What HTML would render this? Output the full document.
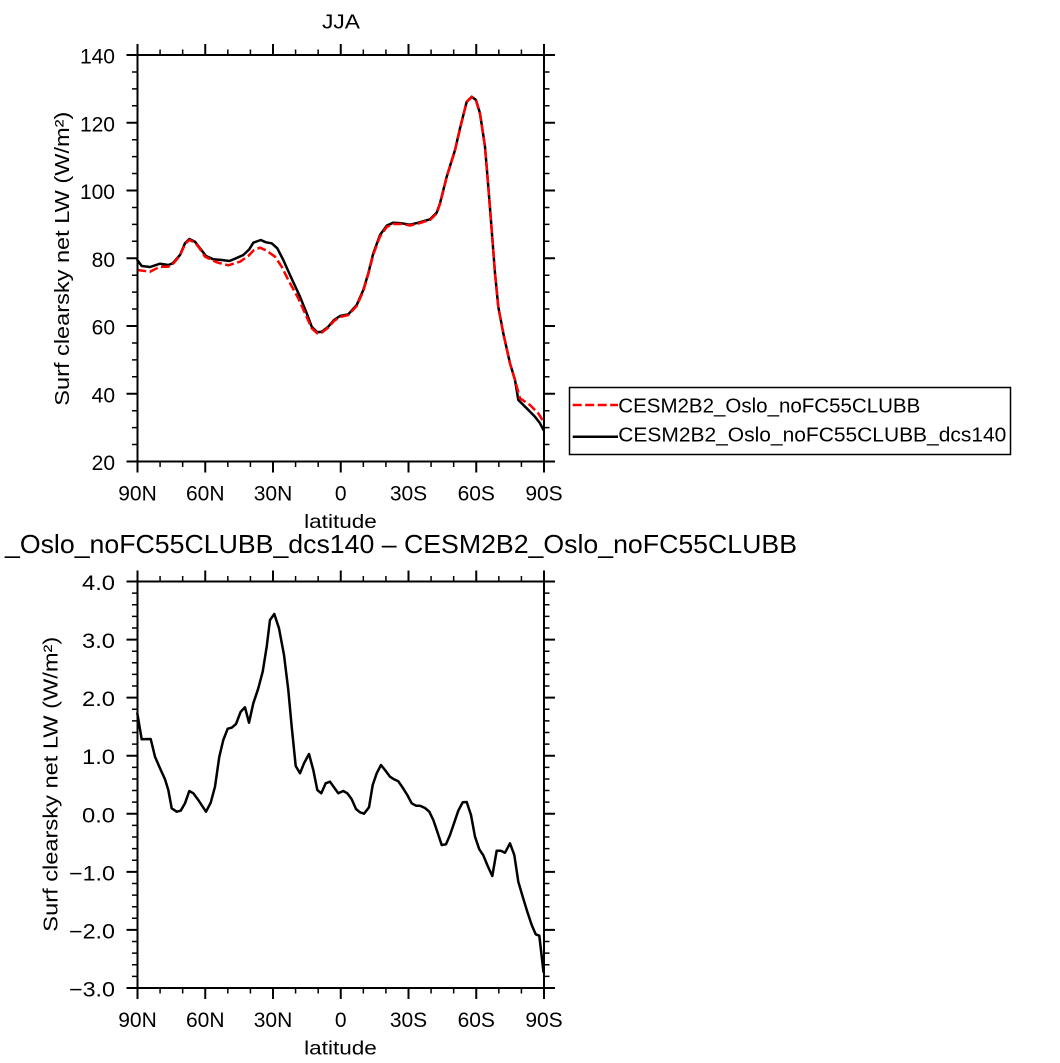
<!DOCTYPE html>
<html>
<head>
<meta charset="utf-8">
<style>
html,body{margin:0;padding:0;background:#fff;}
svg{display:block;}
text{font-family:"Liberation Sans",sans-serif;fill:#000;}
</style>
</head>
<body>
<svg width="1060" height="1063" viewBox="0 0 1060 1063" xmlns="http://www.w3.org/2000/svg">
<rect x="0" y="0" width="1060" height="1063" fill="#fff"/>

<!-- ================= TOP PLOT ================= -->
<text x="341" y="28.3" font-size="20" text-anchor="middle" textLength="38" lengthAdjust="spacingAndGlyphs">JJA</text>

<polyline fill="none" stroke="#000" stroke-width="2.5" stroke-linejoin="round" stroke-linecap="round"
points="137.3,260 141.7,266 150,267 160,263.7 168.3,265 172.7,263.3 180,255 185,243.3 189.3,239 195,241.7 200,248.3 206,256 213.3,259.3 221.7,260 229.3,261 236,258.3 243.3,255 249.3,249.3 253.3,242.7 260.7,240 266,242.3 271.7,243.3 277.3,248.3 283.3,260 290,275 300,296.7 306.7,313.3 311.7,326.7 317.3,332.3 321.7,331.7 328.3,326.7 334,320 340,316 348.3,314.3 356.7,305 363.3,290 368.3,273.3 373.3,253.3 380,235 386.7,225.7 393.3,222.7 401.7,223.3 410,224.7 418.3,222.7 430,219.3 436.7,212.7 440,203.3 446.7,176.7 455,150 460,128.3 466.7,101.7 471.7,96.7 476,100 480,113.3 485,146.7 488.3,186.7 491.7,230 495,273.3 498.3,306.7 503.3,333.3 510,363.3 515,380 518.3,400 526.7,408.3 535,416.7 540,423.3 543.5,430"/>
<polyline fill="none" stroke="#ff0000" stroke-width="2.5" stroke-dasharray="9 3.5" stroke-linejoin="round"
points="137.3,270 150,271.7 160,266.7 168.3,266.7 172.7,264.3 180,255.5 185,244 189.3,240 195,242.5 200,249 205,256.7 216.7,262.3 228.3,265.3 240,261.7 248.3,256 254,250 260,247.7 266.7,250.7 275,256.7 281.7,266.7 288.3,280 298.3,298.3 305,313.3 311.7,328.3 317.3,333.3 321.7,332.7 328.3,327.5 334,321 340,317 348.3,315 356.7,306 363.3,291 368.3,274 373.3,254.5 380,236.5 386.7,227 393.3,224 401.7,224 410,225.5 418.3,223.5 430,220 436.7,213.5 440,204 446.7,177 455,150.5 460,129 466.7,102 471.7,97 476,100.5 480,114 485,147 488.3,187 491.7,230 495,273.5 498.3,307 503.3,333.5 510,363.5 515,380 520,398.3 530,405 538.3,413.3 543.5,421.7"/>

<rect x="137.5" y="55" width="406.5" height="406.5" fill="none" stroke="#000" stroke-width="2"/>
<path fill="none" stroke="#000" stroke-width="2" d="
M137.5 44V55 M205.25 44V55 M273 44V55 M340.75 44V55 M408.5 44V55 M476.25 44V55 M544 44V55
M137.5 461.5V472.5 M205.25 461.5V472.5 M273 461.5V472.5 M340.75 461.5V472.5 M408.5 461.5V472.5 M476.25 461.5V472.5 M544 461.5V472.5
M126.5 55H137.5 M126.5 122.75H137.5 M126.5 190.5H137.5 M126.5 258.25H137.5 M126.5 326H137.5 M126.5 393.75H137.5 M126.5 461.5H137.5
M544 55H555 M544 122.75H555 M544 190.5H555 M544 258.25H555 M544 326H555 M544 393.75H555 M544 461.5H555"/>
<path fill="none" stroke="#000" stroke-width="1.5" d="
M160.08 49.5V55 M182.67 49.5V55 M227.83 49.5V55 M250.42 49.5V55 M295.58 49.5V55 M318.17 49.5V55 M363.33 49.5V55 M385.92 49.5V55 M431.08 49.5V55 M453.67 49.5V55 M498.83 49.5V55 M521.42 49.5V55
M160.08 461.5V467 M182.67 461.5V467 M227.83 461.5V467 M250.42 461.5V467 M295.58 461.5V467 M318.17 461.5V467 M363.33 461.5V467 M385.92 461.5V467 M431.08 461.5V467 M453.67 461.5V467 M498.83 461.5V467 M521.42 461.5V467
M132 71.94H137.5 M132 88.88H137.5 M132 105.81H137.5 M132 139.69H137.5 M132 156.63H137.5 M132 173.56H137.5 M132 207.44H137.5 M132 224.38H137.5 M132 241.31H137.5 M132 275.19H137.5 M132 292.13H137.5 M132 309.06H137.5 M132 342.94H137.5 M132 359.88H137.5 M132 376.81H137.5 M132 410.69H137.5 M132 427.63H137.5 M132 444.56H137.5
M544 71.94H549.5 M544 88.88H549.5 M544 105.81H549.5 M544 139.69H549.5 M544 156.63H549.5 M544 173.56H549.5 M544 207.44H549.5 M544 224.38H549.5 M544 241.31H549.5 M544 275.19H549.5 M544 292.13H549.5 M544 309.06H549.5 M544 342.94H549.5 M544 359.88H549.5 M544 376.81H549.5 M544 410.69H549.5 M544 427.63H549.5 M544 444.56H549.5"/>

<g font-size="21" text-anchor="end">
<text x="115" y="63.5">140</text>
<text x="115" y="131.25">120</text>
<text x="115" y="199">100</text>
<text x="115" y="266.75">80</text>
<text x="115" y="334.5">60</text>
<text x="115" y="402.25">40</text>
<text x="115" y="470">20</text>
</g>
<g font-size="21" text-anchor="middle">
<text x="137.5" y="500.7">90N</text>
<text x="205.25" y="500.7">60N</text>
<text x="273" y="500.7">30N</text>
<text x="340.75" y="500.7">0</text>
<text x="408.5" y="500.7">30S</text>
<text x="476.25" y="500.7">60S</text>
<text x="544" y="500.7">90S</text>
</g>
<text x="340.5" y="528" font-size="19.5" text-anchor="middle" textLength="72.7" lengthAdjust="spacingAndGlyphs">latitude</text>
<text transform="translate(69,258.7) rotate(-90)" font-size="20" text-anchor="middle" textLength="294" lengthAdjust="spacingAndGlyphs">Surf clearsky net LW (W/m²)</text>

<rect x="569.5" y="387.5" width="441" height="67" fill="#fff" stroke="#000" stroke-width="1.5"/>
<line x1="572.7" y1="405" x2="618" y2="405" stroke="#ff0000" stroke-width="2.5" stroke-dasharray="9 3.5"/>
<line x1="572.7" y1="436.7" x2="618" y2="436.7" stroke="#000" stroke-width="2.5"/>
<text x="618.3" y="412.3" font-size="20" textLength="302" lengthAdjust="spacingAndGlyphs">CESM2B2_Oslo_noFC55CLUBB</text>
<text x="618.3" y="441.7" font-size="20" textLength="388" lengthAdjust="spacingAndGlyphs">CESM2B2_Oslo_noFC55CLUBB_dcs140</text>

<!-- ================= BOTTOM PLOT ================= -->
<text x="-130" y="553" font-size="26">CESM2B2</text>
<text x="5" y="553" font-size="26" textLength="792" lengthAdjust="spacingAndGlyphs">_Oslo_noFC55CLUBB_dcs140 – CESM2B2_Oslo_noFC55CLUBB</text>

<polyline fill="none" stroke="#000" stroke-width="2.5" stroke-linejoin="round" stroke-linecap="round"
points="137.3,713.3 141.7,739.3 150.7,739 155,756.7 160,768.3 165,779.3 168.3,790 171.7,808.3 176.7,811.7 180.7,810.7 185,803.3 189.3,791 193.3,793.3 198.3,800 206,811.7 210.7,802.7 215,786.7 219.3,756.7 223.3,740 227.7,728.7 231.7,727.7 236,724 240.7,711.7 245,707.3 249,722.7 253.3,703.3 258.3,688.3 262.7,671.7 266.7,646.7 270,620 274.3,614 279,628.3 284,655 288.3,690 291.7,726.7 295.7,766 300,773.3 304,763.3 309,754 313.3,770 317.3,790 321.3,793.3 325.7,783.3 330,781.7 334,787.3 338.3,793.3 343.3,791 347.3,793.3 351.7,799.3 356,809 360,812.3 364,813.7 369,807.3 372.7,785 376.7,773.3 381,765 385,770 390,776.7 394,779.3 398.3,781.3 402.7,787.7 407.3,795 411.7,803.3 416,805.7 420,805.7 425,808 429.3,811.7 433.3,820 437.3,831.7 441.7,845 446,844.3 450,835 454,823.3 458.3,810.7 462.7,802.3 466.7,802 471,815 475,836.7 479.3,849.3 483.3,855.3 487.7,866 492.3,876 496.7,850.7 500.7,850.7 505,852.7 510,843.3 514.3,855 518.3,881.7 522.7,896.7 527.3,911.7 531.7,925 535.7,934.3 539.3,935.7 543.5,972"/>

<rect x="137.5" y="581.5" width="406.5" height="406.5" fill="none" stroke="#000" stroke-width="2"/>
<path fill="none" stroke="#000" stroke-width="2" d="
M137.5 570.5V581.5 M205.25 570.5V581.5 M273 570.5V581.5 M340.75 570.5V581.5 M408.5 570.5V581.5 M476.25 570.5V581.5 M544 570.5V581.5
M137.5 988V999 M205.25 988V999 M273 988V999 M340.75 988V999 M408.5 988V999 M476.25 988V999 M544 988V999
M126.5 581.5H137.5 M126.5 639.57H137.5 M126.5 697.64H137.5 M126.5 755.71H137.5 M126.5 813.79H137.5 M126.5 871.86H137.5 M126.5 929.93H137.5 M126.5 988H137.5
M544 581.5H555 M544 639.57H555 M544 697.64H555 M544 755.71H555 M544 813.79H555 M544 871.86H555 M544 929.93H555 M544 988H555"/>
<path fill="none" stroke="#000" stroke-width="1.5" d="
M160.08 576V581.5 M182.67 576V581.5 M227.83 576V581.5 M250.42 576V581.5 M295.58 576V581.5 M318.17 576V581.5 M363.33 576V581.5 M385.92 576V581.5 M431.08 576V581.5 M453.67 576V581.5 M498.83 576V581.5 M521.42 576V581.5
M160.08 988V993.5 M182.67 988V993.5 M227.83 988V993.5 M250.42 988V993.5 M295.58 988V993.5 M318.17 988V993.5 M363.33 988V993.5 M385.92 988V993.5 M431.08 988V993.5 M453.67 988V993.5 M498.83 988V993.5 M521.42 988V993.5
M132 593.11H137.5 M132 604.73H137.5 M132 616.34H137.5 M132 627.96H137.5
M132 651.19H137.5 M132 662.8H137.5 M132 674.41H137.5 M132 686.03H137.5
M132 709.26H137.5 M132 720.87H137.5 M132 732.49H137.5 M132 744.1H137.5
M132 767.33H137.5 M132 778.94H137.5 M132 790.56H137.5 M132 802.17H137.5
M132 825.4H137.5 M132 837.01H137.5 M132 848.63H137.5 M132 860.24H137.5
M132 883.47H137.5 M132 895.09H137.5 M132 906.7H137.5 M132 918.31H137.5
M132 941.54H137.5 M132 953.16H137.5 M132 964.77H137.5 M132 976.39H137.5
M544 593.11H549.5 M544 604.73H549.5 M544 616.34H549.5 M544 627.96H549.5
M544 651.19H549.5 M544 662.8H549.5 M544 674.41H549.5 M544 686.03H549.5
M544 709.26H549.5 M544 720.87H549.5 M544 732.49H549.5 M544 744.1H549.5
M544 767.33H549.5 M544 778.94H549.5 M544 790.56H549.5 M544 802.17H549.5
M544 825.4H549.5 M544 837.01H549.5 M544 848.63H549.5 M544 860.24H549.5
M544 883.47H549.5 M544 895.09H549.5 M544 906.7H549.5 M544 918.31H549.5
M544 941.54H549.5 M544 953.16H549.5 M544 964.77H549.5 M544 976.39H549.5"/>

<g font-size="21" text-anchor="end">
<text x="115" y="590" textLength="33" lengthAdjust="spacingAndGlyphs">4.0</text>
<text x="115" y="648.07" textLength="33" lengthAdjust="spacingAndGlyphs">3.0</text>
<text x="115" y="706.14" textLength="33" lengthAdjust="spacingAndGlyphs">2.0</text>
<text x="115" y="764.21" textLength="33" lengthAdjust="spacingAndGlyphs">1.0</text>
<text x="115" y="822.29" textLength="33" lengthAdjust="spacingAndGlyphs">0.0</text>
<text x="115" y="880.36" textLength="46" lengthAdjust="spacingAndGlyphs">−1.0</text>
<text x="115" y="938.43" textLength="46" lengthAdjust="spacingAndGlyphs">−2.0</text>
<text x="115" y="996.5" textLength="46" lengthAdjust="spacingAndGlyphs">−3.0</text>
</g>
<g font-size="21" text-anchor="middle">
<text x="137.5" y="1027">90N</text>
<text x="205.25" y="1027">60N</text>
<text x="273" y="1027">30N</text>
<text x="340.75" y="1027">0</text>
<text x="408.5" y="1027">30S</text>
<text x="476.25" y="1027">60S</text>
<text x="544" y="1027">90S</text>
</g>
<text x="340.5" y="1054.5" font-size="19.5" text-anchor="middle" textLength="72.7" lengthAdjust="spacingAndGlyphs">latitude</text>
<text transform="translate(57.5,784.2) rotate(-90)" font-size="20" text-anchor="middle" textLength="295" lengthAdjust="spacingAndGlyphs">Surf clearsky net LW (W/m²)</text>
</svg>
</body>
</html>
